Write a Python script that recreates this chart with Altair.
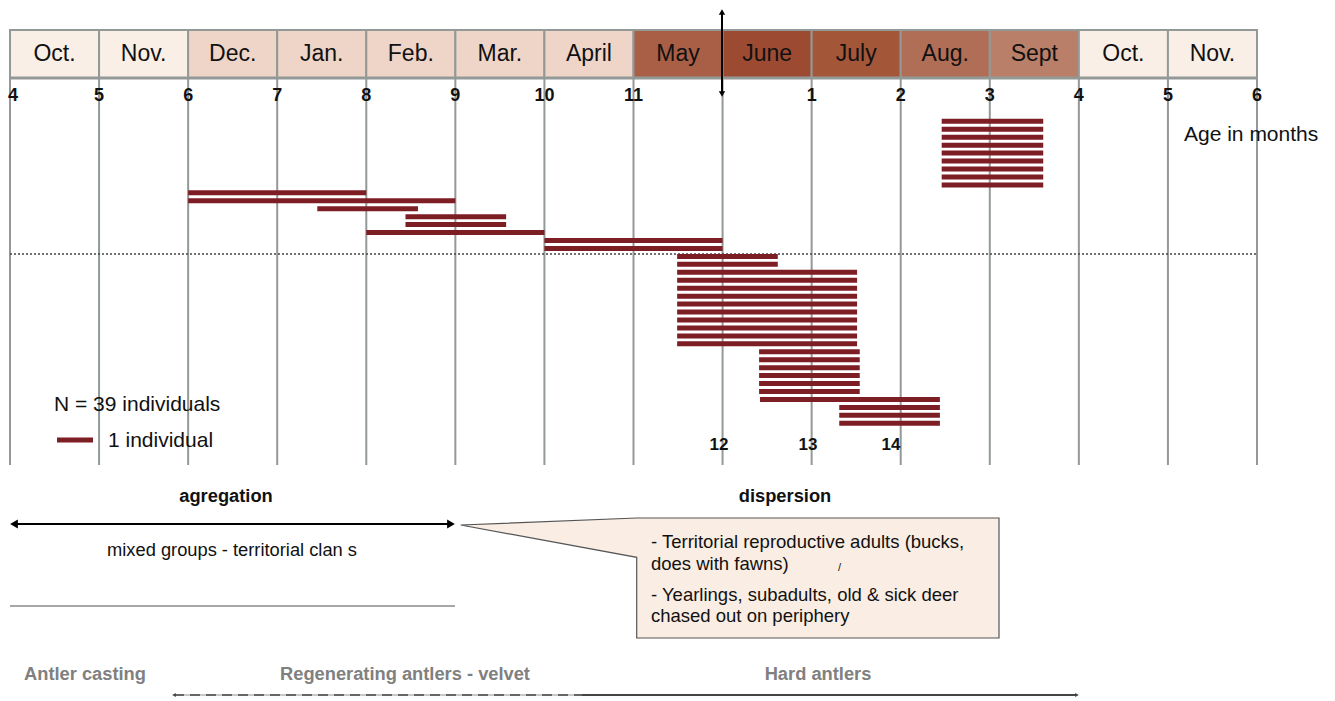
import altair as alt
import pandas as pd

FONT = "Liberation Sans"

# ---- data -------------------------------------------------------------
months = ["Oct.", "Nov.", "Dec.", "Jan.", "Feb.", "Mar.", "April", "May",
          "June", "July", "Aug.", "Sept", "Oct.", "Nov."]
month_colors = ["#faefe6", "#faefe6", "#efd5c8", "#efd5c8", "#efd5c8", "#efd5c8",
                "#efd5c8", "#a95f46", "#9d4a33", "#a45639", "#b06e56", "#ba7f68",
                "#faefe6", "#faefe6"]
age_labels = ["4", "5", "6", "7", "8", "9", "10", "11", "", "1", "2", "3", "4", "5", "6"]

# groups of identical individual bars, top to bottom (month units, 0 = start of Oct.)
group_start = [10.46, 2.0, 2.0, 3.45, 4.44, 4.0, 6.0, 7.49, 7.49, 8.41, 8.42, 9.31]
group_end = [11.60, 4.0, 5.0, 4.58, 5.57, 6.0, 8.0, 8.62, 9.51, 9.54, 10.44, 10.44]
group_count = [9, 1, 1, 1, 2, 1, 2, 2, 10, 6, 1, 3]

BAR = "#7d1d24"
GRID = "#939997"

# ---- tables built from the arrays ------------------------------------
df_months = pd.DataFrame({
    "start": list(range(len(months))),
    "end": [i + 1 for i in range(len(months))],
    "mid": [i + 0.5 for i in range(len(months))],
    "label": months,
    "color": month_colors,
})
df_bounds = pd.DataFrame({"b": list(range(len(age_labels))), "label": age_labels})

rows, starts, ends = [], [], []
r = 0
for s, e, c in zip(group_start, group_end, group_count):
    for _ in range(c):
        rows.append(r)
        starts.append(s)
        ends.append(e)
        r += 1
df_bars = pd.DataFrame({"row": rows, "start": starts, "end": ends})

one = pd.DataFrame({"k": [0]})

XM = alt.Scale(domain=[0, 14], range=[2, 1249], nice=False, zero=False)
YR = alt.Scale(domain=[0, 38], range=[113.3, 415.3], nice=False, zero=False)
PX = alt.Scale(domain=[0, 1319], range=[0, 1319], nice=False, zero=False)
PY = alt.Scale(domain=[0, 690], range=[0, 690], nice=False, zero=False)

layers = []

# header month boxes
layers.append(
    alt.Chart(df_months).mark_rect(stroke=GRID, strokeWidth=2).encode(
        x=alt.X("start:Q", scale=XM, axis=None), x2="end:Q",
        y=alt.value(22), y2=alt.value(70),
        color=alt.Color("color:N", scale=None),
    )
)
# vertical grid lines
layers.append(
    alt.Chart(df_bounds).mark_rule(color=GRID, strokeWidth=2).encode(
        x=alt.X("b:Q", scale=XM, axis=None), y=alt.value(70), y2=alt.value(457)
    )
)
# thick bottom of header
layers.append(
    alt.Chart(one).mark_rule(color=GRID, strokeWidth=3).encode(
        x=alt.value(2), x2=alt.value(1249), y=alt.value(70)
    )
)
# month labels
layers.append(
    alt.Chart(df_months).mark_text(font=FONT, fontSize=23, baseline="middle", color="#111").encode(
        x=alt.X("mid:Q", scale=XM, axis=None), y=alt.value(46), text="label:N"
    )
)
# age labels (first one kept inside the left edge)
layers.append(
    alt.Chart(df_bounds).transform_filter("datum.b > 0").mark_text(
        font=FONT, fontSize=18, fontWeight="bold", baseline="middle", color="#111").encode(
        x=alt.X("b:Q", scale=XM, axis=None), y=alt.value(88), text="label:N"
    )
)
layers.append(
    alt.Chart(df_bounds).transform_filter("datum.b == 0").mark_text(
        font=FONT, fontSize=18, fontWeight="bold", baseline="middle", align="left",
        dx=-2, color="#111").encode(
        x=alt.X("b:Q", scale=XM, axis=None), y=alt.value(88), text="label:N"
    )
)
# dotted separator
layers.append(
    alt.Chart(one).mark_rule(color="#444", strokeWidth=1.5, strokeDash=[2, 2]).encode(
        x=alt.value(2), x2=alt.value(1249), y=alt.value(246)
    )
)
# individual bars
layers.append(
    alt.Chart(df_bars).mark_rule(color=BAR, strokeWidth=5).encode(
        x=alt.X("start:Q", scale=XM, axis=None), x2="end:Q",
        y=alt.Y("row:Q", scale=YR, axis=None),
    )
)
# vertical arrow (birth)
layers.append(
    alt.Chart(one).mark_rule(color="#000", strokeWidth=2).encode(
        x=alt.value(714), y=alt.value(4), y2=alt.value(87)
    )
)
layers.append(
    alt.Chart(one).mark_point(shape="triangle-up", filled=True, size=40, color="#000", opacity=1).encode(
        x=alt.value(714), y=alt.value(4)
    )
)
layers.append(
    alt.Chart(one).mark_point(shape="triangle-down", filled=True, size=40, color="#000", opacity=1).encode(
        x=alt.value(714), y=alt.value(86)
    )
)


def txt(s, x, y, size, align="left", bold=False, color="#111", font=FONT):
    return alt.Chart(one).mark_text(
        text=s, fontSize=size, align=align, baseline="middle", font=font,
        fontWeight="bold" if bold else "normal", color=color,
    ).encode(x=alt.value(x), y=alt.value(y))


layers.append(txt("Age in months", 1176, 127, 21))
layers.append(txt("N = 39 individuals", 46, 397, 21))
layers.append(
    alt.Chart(one).mark_rule(color=BAR, strokeWidth=5).encode(
        x=alt.value(49), x2=alt.value(85), y=alt.value(432)
    )
)
layers.append(txt("1 individual", 100, 433, 21))
layers.append(txt("12", 711, 437, 17, align="center", bold=True))
layers.append(txt("13", 800, 437, 17, align="center", bold=True))
layers.append(txt("14", 883, 437, 17, align="center", bold=True))

# social organisation
layers.append(txt("agregation", 218, 489, 18.3, align="center", bold=True))
layers.append(txt("dispersion", 777, 489, 18.3, align="center", bold=True))
layers.append(
    alt.Chart(one).mark_rule(color="#000", strokeWidth=2).encode(
        x=alt.value(5), x2=alt.value(444), y=alt.value(516)
    )
)
layers.append(
    alt.Chart(one).mark_point(shape="triangle-left", filled=True, size=80, color="#000", opacity=1).encode(
        x=alt.value(6), y=alt.value(516)
    )
)
layers.append(
    alt.Chart(one).mark_point(shape="triangle-right", filled=True, size=80, color="#000", opacity=1).encode(
        x=alt.value(443), y=alt.value(516)
    )
)
layers.append(txt("mixed groups - territorial clan s", 224, 543, 18.3, align="center"))
layers.append(
    alt.Chart(one).mark_rule(color="#8a8a8a", strokeWidth=1.5).encode(
        x=alt.value(2), x2=alt.value(447), y=alt.value(598)
    )
)

# callout
CALL_FILL = "#faede3"
layers.append(
    alt.Chart(one).mark_rect(color=CALL_FILL).encode(
        x=alt.value(628.7), x2=alt.value(991), y=alt.value(510), y2=alt.value(630)
    )
)
df_tail = pd.DataFrame({"x": [452.7, 629.5], "y": [517, 510], "y2": [517, 549.3]})
layers.append(
    alt.Chart(df_tail).mark_area(color=CALL_FILL, opacity=1).encode(
        x=alt.X("x:Q", scale=PX, axis=None),
        y=alt.Y("y:Q", scale=PY, axis=None), y2="y2:Q",
    )
)
df_outline = pd.DataFrame({
    "o": [0, 1, 2, 3, 4, 5, 6],
    "x": [452.7, 628.7, 991, 991, 628.7, 628.7, 452.7],
    "y": [517, 510, 510, 630, 630, 549.3, 517],
})
layers.append(
    alt.Chart(df_outline).mark_line(color="#555", strokeWidth=1.2).encode(
        x=alt.X("x:Q", scale=PX, axis=None),
        y=alt.Y("y:Q", scale=PY, axis=None), order="o:Q",
    )
)
layers.append(txt("- Territorial reproductive adults (bucks,", 643, 534, 18.5))
layers.append(txt("does with fawns)", 643, 556, 18.5))
layers.append(txt("/", 830, 560, 11))
layers.append(txt("- Yearlings, subadults, old & sick deer", 643, 587, 18.5))
layers.append(txt("chased out on periphery", 643, 608, 18.5))

# antler cycle
ANT = "#808080"
layers.append(txt("Antler casting", 77, 667, 18.3, align="center", bold=True, color=ANT))
layers.append(txt("Regenerating antlers - velvet", 397, 667, 18.3, align="center", bold=True, color=ANT))
layers.append(txt("Hard antlers", 810, 667, 18.3, align="center", bold=True, color=ANT))
layers.append(
    alt.Chart(one).mark_rule(color="#c8c8c8", strokeWidth=2).encode(
        x=alt.value(166), x2=alt.value(574), y=alt.value(687)
    )
)
layers.append(
    alt.Chart(one).mark_rule(color="#666", strokeWidth=2, strokeDash=[10, 6]).encode(
        x=alt.value(166), x2=alt.value(574), y=alt.value(687)
    )
)
layers.append(
    alt.Chart(one).mark_rule(color="#444", strokeWidth=2).encode(
        x=alt.value(574), x2=alt.value(1069), y=alt.value(687)
    )
)
layers.append(
    alt.Chart(one).mark_point(shape="triangle-left", filled=True, size=18, color="#444", opacity=1).encode(
        x=alt.value(166), y=alt.value(687)
    )
)
layers.append(
    alt.Chart(one).mark_point(shape="triangle-right", filled=True, size=18, color="#444", opacity=1).encode(
        x=alt.value(1069), y=alt.value(687)
    )
)

chart = alt.layer(*layers).resolve_scale(
    x="independent", y="independent"
).properties(
    width=1319, height=690, padding=0,
    autosize=alt.AutoSizeParams(type="none"),
    background="white",
).configure_view(stroke=None)

chart.save("out.html", embed_options={"renderer": "svg", "actions": False})
